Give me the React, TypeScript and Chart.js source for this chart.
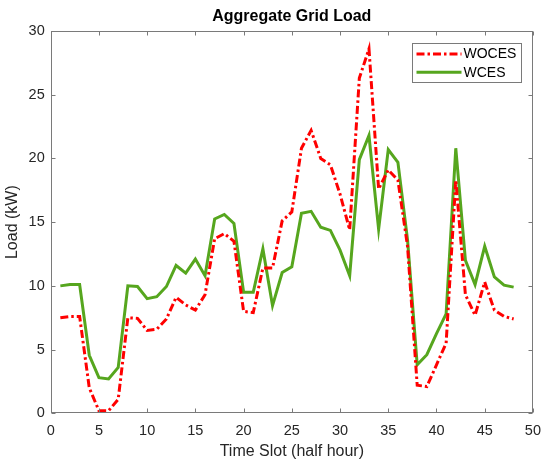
import { useEffect, useRef } from "react";
import { Chart, ChartConfiguration, Plugin, registerables } from "chart.js";

Chart.register(...registerables);

// half-hour time slots
const slots = [
  1, 2, 3, 4, 5, 6, 7, 8, 9, 10, 11, 12, 13, 14, 15, 16, 17, 18, 19, 20, 21, 22, 23, 24,
  25, 26, 27, 28, 29, 30, 31, 32, 33, 34, 35, 36, 37, 38, 39, 40, 41, 42, 43, 44, 45, 46, 47, 48,
];

// load without CES (kW)
const woces = [
  7.5, 7.6, 7.6, 2.0, 0.2, 0.2, 1.1, 7.5, 7.45, 6.5, 6.6, 7.4, 9.1, 8.5, 8.1, 9.3,
  13.7, 14.1, 13.5, 8.0, 7.9, 11.4, 11.4, 15.1, 15.8, 20.8, 22.2, 20.0, 19.5, 17.2, 14.4, 26.3,
  28.6, 17.6, 19.1, 18.3, 13.1, 2.2, 2.1, 3.8, 5.5, 18.3, 9.3, 7.7, 10.3, 8.1, 7.6, 7.4,
];

// load with CES (kW)
const wces = [
  10.0, 10.1, 10.1, 4.55, 2.8, 2.7, 3.6, 10.0, 9.95, 9.0, 9.15, 9.95, 11.6, 11.0, 12.1, 10.8,
  15.25, 15.6, 14.9, 9.5, 9.5, 12.9, 8.45, 11.05, 11.5, 15.7, 15.85, 14.6, 14.35, 12.8, 10.8, 19.9,
  21.8, 14.45, 20.7, 19.7, 13.6, 3.8, 4.6, 6.25, 7.8, 20.8, 12.0, 10.1, 13.1, 10.7, 10.05, 9.9,
];

const seriesNames = ["WOCES", "WCES"];
const RED = "#ff0000";
const GREEN = "#56a61e";
const RED_DASH = [8, 3, 2.5, 3];
const AXIS = "#7a7a7a";
const FONT = "'Liberation Sans', Arial, Helvetica, sans-serif";

// MATLAB-like frame: full box with inward ticks, plus a boxed legend
const axesFrame: Plugin<"line"> = {
  id: "axesFrame",
  afterDraw(chart) {
    const { ctx, chartArea: a, scales } = chart;
    const l = Math.round(a.left) + 0.5;
    const r = Math.round(a.right) - 0.5;
    const t = Math.round(a.top) + 0.5;
    const b = Math.round(a.bottom) - 0.5;
    ctx.save();
    ctx.strokeStyle = AXIS;
    ctx.lineWidth = 1;
    ctx.setLineDash([]);
    ctx.strokeRect(l, t, r - l, b - t);
    ctx.beginPath();
    const tl = 4;
    scales.x.ticks.forEach((tk) => {
      const px = Math.round(scales.x.getPixelForValue(tk.value)) + 0.5;
      ctx.moveTo(px, b);
      ctx.lineTo(px, b - tl);
      ctx.moveTo(px, t);
      ctx.lineTo(px, t + tl);
    });
    scales.y.ticks.forEach((tk) => {
      const py = Math.round(scales.y.getPixelForValue(tk.value)) + 0.5;
      ctx.moveTo(l, py);
      ctx.lineTo(l + tl, py);
      ctx.moveTo(r, py);
      ctx.lineTo(r - tl, py);
    });
    ctx.stroke();

    // legend box
    const bw = 109;
    const bh = 39;
    const bx = Math.round(a.right - 11.7 - bw) + 0.5;
    const by = Math.round(a.top + 11.7) + 0.5;
    ctx.fillStyle = "#ffffff";
    ctx.fillRect(bx, by, bw, bh);
    ctx.strokeStyle = AXIS;
    ctx.strokeRect(bx, by, bw, bh);

    const rows = [
      { name: seriesNames[0], color: RED, dash: RED_DASH, y: by + 10.5 },
      { name: seriesNames[1], color: GREEN, dash: [] as number[], y: by + 28.8 },
    ];
    ctx.font = `14px ${FONT}`;
    ctx.textBaseline = "middle";
    ctx.textAlign = "left";
    rows.forEach((row) => {
      ctx.beginPath();
      ctx.strokeStyle = row.color;
      ctx.lineWidth = 3;
      ctx.lineCap = "butt";
      ctx.setLineDash(row.dash);
      ctx.moveTo(bx + 4, row.y);
      ctx.lineTo(bx + 49, row.y);
      ctx.stroke();
      ctx.setLineDash([]);
      ctx.fillStyle = "#000000";
      ctx.fillText(row.name, bx + 51, row.y + 0.5);
    });
    ctx.restore();
  },
};

export default function App() {
  const canvasRef = useRef<HTMLCanvasElement>(null);
  const chartRef = useRef<Chart | null>(null);

  useEffect(() => {
    if (!canvasRef.current) return;

    if (chartRef.current) {
      chartRef.current.destroy();
    }

    const ctx = canvasRef.current.getContext("2d");
    if (!ctx) return;

    const config: ChartConfiguration<"line"> = {
      type: "line",
      data: {
        datasets: [
          {
            label: seriesNames[0],
            data: slots.map((s, i) => ({ x: s, y: woces[i] })),
            borderColor: RED,
            borderWidth: 3,
            borderDash: RED_DASH,
            borderCapStyle: "butt",
            pointRadius: 0,
            tension: 0,
            fill: false,
          },
          {
            label: seriesNames[1],
            data: slots.map((s, i) => ({ x: s, y: wces[i] })),
            borderColor: GREEN,
            borderWidth: 3,
            pointRadius: 0,
            tension: 0,
            fill: false,
          },
        ],
      },
      options: {
        responsive: true,
        maintainAspectRatio: false,
        animation: false,
        layout: {
          padding: { left: 0, right: 15, top: 0, bottom: 0 },
        },
        plugins: {
          legend: { display: false },
          tooltip: { enabled: false },
          title: {
            display: true,
            text: "Aggregate Grid Load",
            fullSize: false,
            color: "#000000",
            font: { family: FONT, size: 16, weight: "bold" },
            padding: { top: 7.1, bottom: 4.7 },
          },
        },
        scales: {
          x: {
            type: "linear",
            min: 0,
            max: 50,
            grid: { display: false, drawTicks: false },
            border: { display: false },
            ticks: {
              stepSize: 5,
              padding: 9,
              maxRotation: 0,
              color: "#262626",
              font: { family: FONT, size: 14.5 },
            },
            title: {
              display: true,
              text: "Time Slot (half hour)",
              color: "#262626",
              font: { family: FONT, size: 16 },
              padding: { top: 0, bottom: 6.2 },
            },
            afterFit: (scale) => {
              scale.height = 53.7;
            },
          },
          y: {
            min: 0,
            max: 30,
            grid: { display: false, drawTicks: false },
            border: { display: false },
            ticks: {
              stepSize: 5,
              padding: 6,
              color: "#262626",
              font: { family: FONT, size: 14.5 },
            },
            title: {
              display: true,
              text: "Load (kW)",
              color: "#262626",
              font: { family: FONT, size: 16 },
              padding: { top: 3, bottom: 0 },
            },
            afterFit: (scale) => {
              scale.width = 50.7;
            },
          },
        },
      },
      plugins: [axesFrame],
    };

    chartRef.current = new Chart(ctx, config);

    return () => {
      if (chartRef.current) {
        chartRef.current.destroy();
        chartRef.current = null;
      }
    };
  }, []);

  return (
    <div
      style={{
        position: "fixed",
        left: 0,
        top: 0,
        width: 550,
        height: 467,
        background: "#ffffff",
      }}
    >
      <canvas ref={canvasRef} />
    </div>
  );
}
